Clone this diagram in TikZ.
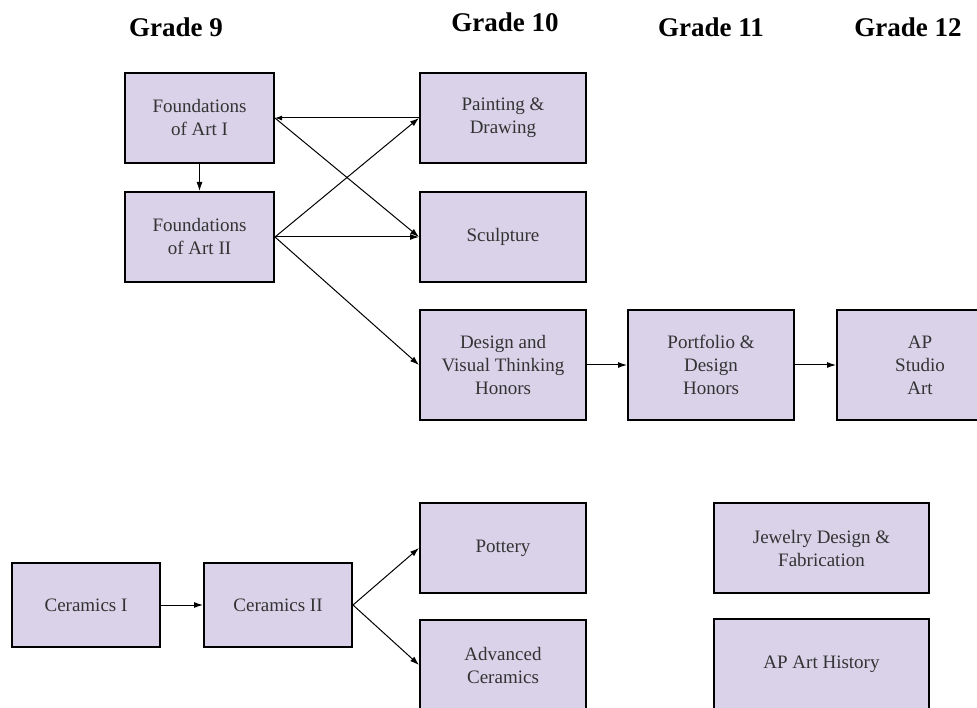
\documentclass[tikz,border=0pt]{standalone}
\usepackage{fontspec}
\setmainfont{Liberation Serif}
\usetikzlibrary{arrows.meta}

\definecolor{boxfill}{HTML}{D9D2E9}
\definecolor{boxtext}{HTML}{333333}

\tikzset{
  course/.style={draw=black, line width=2pt, fill=boxfill, rectangle,
    inner sep=0pt, minimum width=166pt, minimum height=90pt, align=center,
    text=boxtext, font=\fontsize{19}{23}\selectfont},
  grade/.style={font=\fontsize{27}{30}\selectfont\bfseries},
  link/.style={line width=1pt, -{Latex[length=9pt,width=6pt]}},
}

\begin{document}
\begin{tikzpicture}[x=1pt,y=-1pt]
\useasboundingbox (0,0) rectangle (977,708);
\clip (0,0) rectangle (977,708);
% grade headings
\node[grade] (g9) at (176,27) {Grade 9};
\node[grade] (g10) at (505,22) {Grade 10};
\node[grade] (g11) at (711,27) {Grade 11};
\node[grade] (g12) at (908,27) {Grade 12};
% foundations and grade 10
\node[course,minimum width=149pt] (fa1) at (199.5,118) {Foundations\\of Art I};
\node[course,minimum width=149pt] (fa2) at (199.5,237) {Foundations\\of Art II};
\node[course] (paint) at (503,118) {Painting \&\\Drawing};
\node[course] (sculpt) at (503,237) {Sculpture};
\node[course,minimum height=110pt] (design) at (503,365) {Design and\\Visual Thinking\\Honors};
\node[course,minimum height=110pt] (portf) at (711,365) {Portfolio \&\\Design\\Honors};
\node[course,minimum height=110pt] (apstudio) at (920,365) {AP\\Studio\\Art};
% ceramics
\node[course,minimum width=148pt,minimum height=84pt] (cer1) at (86,605) {Ceramics I};
\node[course,minimum width=148pt,minimum height=84pt] (cer2) at (278,605) {Ceramics II};
\node[course] (pottery) at (503,548) {Pottery};
\node[course] (advcer) at (503,665) {Advanced\\Ceramics};
% other electives
\node[course,minimum width=215pt] (jewel) at (821.5,548) {Jewelry Design \&\\Fabrication};
\node[course,minimum width=215pt] (aphist) at (821.5,664) {AP Art History};
% connectors
\draw[link] (fa1) -- (fa2);
\draw[link,{Latex[length=7pt,width=5pt]}-] (fa1.east) -- (paint.west);
\draw[link] (fa1.east) -- (sculpt.west);
\draw[link] (fa2.east) -- (paint.west);
\draw[link] (fa2.east) -- (sculpt.west);
\draw[link] (fa2.east) -- (design.west);
\draw[link] (design) -- (portf);
\draw[link] (portf) -- (apstudio);
\draw[link] (cer1) -- (cer2);
\draw[link] (cer2.east) -- (pottery.west);
\draw[link] (cer2.east) -- (advcer.west);
\end{tikzpicture}
\end{document}
